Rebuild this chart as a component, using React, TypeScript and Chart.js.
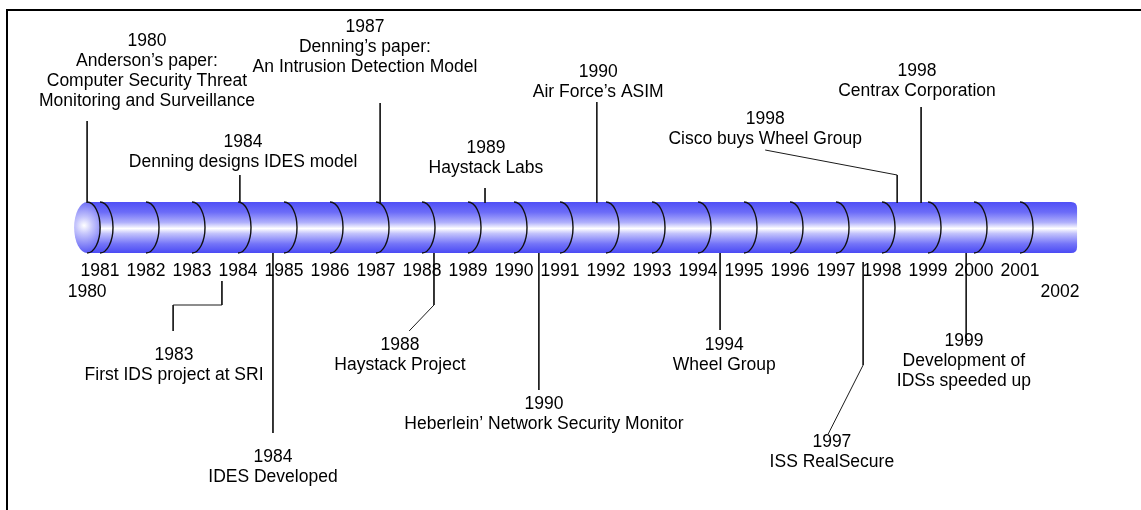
import React, { useEffect, useRef } from "react";
import { Chart, registerables } from "chart.js";

Chart.register(...registerables);

// ---- data ----
const tickValues = [1981, 1982, 1983, 1984, 1985, 1986, 1987, 1988, 1989, 1990, 1991, 1992, 1993, 1994, 1995, 1996, 1997, 1998, 1999, 2000, 2001];
const tickLabels = ["1981", "1982", "1983", "1984", "1985", "1986", "1987", "1988", "1989", "1990", "1991", "1992", "1993", "1994", "1995", "1996", "1997", "1998", "1999", "2000", "2001"];
const endLabels = ["1980", "2002"];
const endValues = [1980.72, 2001.87];

const eventYears = ["1980", "1987", "1990", "1998", "1998", "1984", "1989", "1983", "1984", "1988", "1990", "1994", "1997", "1999"];
const eventTexts = [
  ["Anderson\u2019s paper:", "Computer Security Threat", "Monitoring and Surveillance"],
  ["Denning\u2019s paper:", "An Intrusion Detection Model"],
  ["Air Force\u2019s ASIM"],
  ["Centrax Corporation"],
  ["Cisco buys Wheel Group"],
  ["Denning designs IDES model"],
  ["Haystack Labs"],
  ["First IDS project at SRI"],
  ["IDES Developed"],
  ["Haystack Project"],
  ["Heberlein\u2019 Network Security Monitor"],
  ["Wheel Group"],
  ["ISS RealSecure"],
  ["Development of", "IDSs speeded up"],
];

// ---- layout (axis units: x in years, y in rows of the picture) ----
const xMin = 1978.826;
const xMax = 2003.63;
const yMin = 0;
const yMax = 510;
const tubeStart = 1980.72;
const tubeEnd = 2002.24;
const tubeTop = 202;
const tubeBottom = 253;
const tickRow = 271;
const endRow = 292;
const textX = [1982.02, 1986.76, 1991.83, 1998.76, 1995.46, 1984.11, 1989.39, 1982.61, 1984.76, 1987.52, 1990.65, 1994.57, 1996.91, 1999.78];
const textY = [41, 27, 72, 71, 119, 142, 148, 355, 457, 345, 404, 345, 442, 341];
const leaders: number[][][] = [
  [[1980.72, 121], [1980.72, 203]],
  [[1987.09, 103], [1987.09, 203]],
  [[1991.8, 102], [1991.8, 203]],
  [[1998.85, 107], [1998.85, 203]],
  [[1995.46, 150], [1998.33, 175], [1998.33, 203]],
  [[1984.04, 175], [1984.04, 203]],
  [[1989.37, 188], [1989.37, 203]],
  [[1983.65, 281], [1983.65, 305], [1982.59, 305], [1982.59, 331]],
  [[1984.76, 253], [1984.76, 433]],
  [[1988.26, 253], [1988.26, 305], [1987.72, 331]],
  [[1990.54, 253], [1990.54, 390]],
  [[1994.48, 253], [1994.48, 330]],
  [[1997.59, 262], [1997.59, 365], [1996.83, 434]],
  [[1999.83, 253], [1999.83, 343]],
];

const FONT = '17.5px "Liberation Sans", Arial, sans-serif';
const LINE_GAP = 20;

const timelinePlugin = {
  id: "timeline",
  beforeDatasetsDraw(chart: any) {
    const { ctx } = chart;
    const xs = chart.scales.x;
    const ys = chart.scales.y;
    ctx.save();
    // frame (top and left)
    ctx.strokeStyle = "#000";
    ctx.lineWidth = 2;
    ctx.beginPath();
    ctx.moveTo(6, 10);
    ctx.lineTo(chart.width, 10);
    ctx.moveTo(7, 9);
    ctx.lineTo(7, chart.height);
    ctx.stroke();

    const x0 = xs.getPixelForValue(tubeStart);
    const x1 = xs.getPixelForValue(tubeEnd);
    const yT = ys.getPixelForValue(tubeTop);
    const yB = ys.getPixelForValue(tubeBottom);
    const ry = (yB - yT) / 2;
    const cy = yT + ry;
    const rx = 13;

    // body
    const g = ctx.createLinearGradient(0, yT, 0, yB);
    g.addColorStop(0, "#4f4ff6");
    g.addColorStop(0.2, "#6c6cf8");
    g.addColorStop(0.4, "#b0b0fb");
    g.addColorStop(0.52, "#ffffff");
    g.addColorStop(0.62, "#c2c2fc");
    g.addColorStop(0.82, "#7474f8");
    g.addColorStop(1, "#4a4af4");
    const r = 6;
    ctx.fillStyle = g;
    ctx.beginPath();
    ctx.moveTo(x0, yT);
    ctx.lineTo(x1 - r, yT);
    ctx.quadraticCurveTo(x1, yT, x1, yT + r);
    ctx.lineTo(x1, yB - r);
    ctx.quadraticCurveTo(x1, yB, x1 - r, yB);
    ctx.lineTo(x0, yB);
    ctx.closePath();
    ctx.fill();

    // segment arcs
    ctx.strokeStyle = "#111";
    ctx.lineWidth = 1.4;
    tickValues.forEach((v) => {
      const px = xs.getPixelForValue(v);
      ctx.beginPath();
      ctx.ellipse(px, cy, rx, ry, 0, -Math.PI / 2, Math.PI / 2);
      ctx.stroke();
    });

    // cap
    const rg = ctx.createRadialGradient(x0 - 3, cy - 2, 0, x0 - 3, cy - 2, ry + 2);
    rg.addColorStop(0, "#ffffff");
    rg.addColorStop(0.3, "#c6c6fc");
    rg.addColorStop(1, "#5858f4");
    ctx.fillStyle = rg;
    ctx.beginPath();
    ctx.ellipse(x0, cy, rx, ry, 0, 0, Math.PI * 2);
    ctx.fill();
    ctx.beginPath();
    ctx.ellipse(x0, cy, rx, ry, 0, -Math.PI / 2, Math.PI / 2);
    ctx.stroke();
    ctx.restore();
  },
  afterDatasetsDraw(chart: any) {
    const { ctx } = chart;
    const xs = chart.scales.x;
    const ys = chart.scales.y;
    ctx.save();
    ctx.fillStyle = "#000";
    ctx.font = FONT;
    ctx.textAlign = "center";
    ctx.textBaseline = "middle";
    tickLabels.forEach((t, i) => {
      ctx.fillText(t, xs.getPixelForValue(tickValues[i]), ys.getPixelForValue(tickRow));
    });
    endLabels.forEach((t, i) => {
      ctx.fillText(t, xs.getPixelForValue(endValues[i]), ys.getPixelForValue(endRow));
    });
    eventYears.forEach((yr, i) => {
      const lines = [yr, ...eventTexts[i]];
      const px = xs.getPixelForValue(textX[i]);
      lines.forEach((l, j) => {
        ctx.fillText(l, px, ys.getPixelForValue(textY[i] + j * LINE_GAP));
      });
    });
    ctx.restore();
  },
};

export default function App() {
  const ref = useRef<HTMLCanvasElement | null>(null);
  useEffect(() => {
    if (!ref.current) return;
    const chart = new Chart(ref.current, {
      type: "scatter",
      data: {
        datasets: leaders.map((pts) => ({
          data: pts.map((p) => ({ x: p[0], y: p[1] })),
          showLine: true,
          borderColor: "#1a1a1a",
          borderWidth: 1,
          pointRadius: 0,
          pointHoverRadius: 0,
          fill: false,
          tension: 0,
        })),
      },
      options: {
        responsive: false,
        animation: false,
        devicePixelRatio: 1,
        layout: { padding: 0 },
        events: [],
        plugins: { legend: { display: false }, tooltip: { enabled: false } },
        scales: {
          x: { type: "linear", min: xMin, max: xMax, display: false },
          y: { type: "linear", min: yMin, max: yMax, reverse: true, display: false },
        },
      },
      plugins: [timelinePlugin],
    });
    return () => chart.destroy();
  }, []);
  return (
    <div style={{ position: "fixed", left: 0, top: 0, width: 1141, height: 510, background: "#fff" }}>
      <canvas ref={ref} width={1141} height={510} style={{ display: "block" }} />
    </div>
  );
}
